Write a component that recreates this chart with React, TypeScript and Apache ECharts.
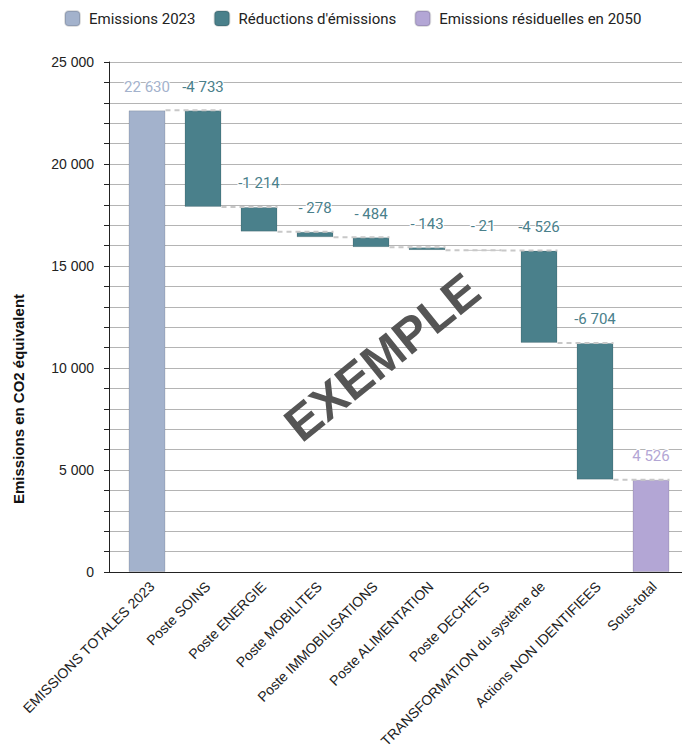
import React, { useEffect, useRef } from "react";
import * as echarts from "echarts";

// ---- Data ----
const categories = [
  "EMISSIONS TOTALES 2023",
  "Poste SOINS",
  "Poste ENERGIE",
  "Poste MOBILITES",
  "Poste IMMOBILISATIONS",
  "Poste ALIMENTATION",
  "Poste DECHETS",
  "TRANSFORMATION du système de",
  "Actions NON IDENTIFIEES",
  "Sous-total",
];
const startEmissions = 22630; // EMISSIONS TOTALES 2023
const reductions = [4733, 1214, 278, 484, 143, 21, 4526, 6704]; // Poste SOINS ... Actions NON IDENTIFIEES
const residual2050 = 4526; // Sous-total
const yTicks = [0, 5000, 10000, 15000, 20000, 25000];
const seriesNames = ["Emissions 2023", "Réductions d'émissions", "Emissions résiduelles en 2050"];

// ---- Derived (running totals) ----
const levels: number[] = [startEmissions];
reductions.forEach((r) => levels.push(levels[levels.length - 1] - r));
const baseData = [0, ...reductions.map((_, i) => levels[i + 1]), 0];
const startData = [startEmissions, ...reductions.map(() => "-"), "-"];
const reductionData = ["-", ...reductions, "-"];
const residualData = ["-", ...reductions.map(() => "-"), residual2050];

const COLORS = ["#a3b2cc", "#4a808b", "#b3a6d5"];

function fmtThousands(n: number): string {
  const s = String(Math.abs(Math.round(n)));
  return s.replace(/\B(?=(\d{3})+(?!\d))/g, " ");
}
function fmtReduction(n: number): string {
  return n < 1000 ? "- " + fmtThousands(n) : "-" + fmtThousands(n);
}

export default function App() {
  const ref = useRef<HTMLDivElement>(null);
  useEffect(() => {
    if (!ref.current) return;
    const chart = echarts.init(ref.current, null, { renderer: "svg" });
    const BAR_W = 37;
    const labelBase = {
      show: true,
      position: "top",
      distance: 16,
      fontFamily: "Roboto",
      fontSize: 15,
      textBorderColor: "#ffffff",
      textBorderWidth: 2,
    };
    const option: any = {
      animation: false,
      backgroundColor: "#ffffff",
      legend: {
        left: 59,
        top: 5,
        itemWidth: 15,
        itemHeight: 15,
        itemGap: 18,
        icon: "roundRect",
        data: seriesNames,
        textStyle: { fontFamily: "Roboto", fontSize: 15, color: "#222", padding: [0, 0, 0, 4] },
      },
      grid: [
        { left: 109, right: 0, top: 62, bottom: 179 },
        { left: 119, right: 3, top: 62, bottom: 179 },
        { left: 124, right: -2, top: 62, bottom: 179 },
      ],
      xAxis: [
        {
          gridIndex: 0,
          type: "value",
          min: 0,
          max: 1,
          axisLine: { show: true, onZero: false, lineStyle: { color: "#222", width: 1 } },
          axisTick: { show: false },
          axisLabel: { show: false },
          splitLine: { show: false },
        },
        {
          gridIndex: 1,
          type: "category",
          data: categories,
          axisLine: { show: false },
          axisTick: { show: false },
          axisLabel: { show: false },
        },
        {
          gridIndex: 2,
          type: "category",
          data: categories,
          axisLine: { show: false },
          axisTick: { show: false },
          axisLabel: {
            interval: 0,
            rotate: 45,
            margin: 12,
            fontFamily: "Liberation Sans",
            fontSize: 14,
            color: "#222",
          },
        },
      ],
      yAxis: [
        {
          gridIndex: 0,
          type: "value",
          min: 0,
          max: 25000,
          interval: 1000,
          axisLine: { show: true, lineStyle: { color: "#222", width: 1 } },
          axisTick: { show: true, length: 5, lineStyle: { color: "#222" } },
          axisLabel: {
            margin: 15,
            fontFamily: "Liberation Sans",
            fontSize: 14,
            color: "#222",
            formatter: (v: number) => (yTicks.includes(v) ? fmtThousands(v) : ""),
          },
          splitLine: { show: true, lineStyle: { color: "#b4b4b4", width: 1 } },
        },
        {
          gridIndex: 1,
          type: "value",
          min: 0,
          max: 25000,
          show: false,
          splitLine: { show: false },
        },
        {
          gridIndex: 2,
          type: "value",
          min: 0,
          max: 25000,
          show: false,
          splitLine: { show: false },
        },
      ],
      graphic: [
        {
          type: "text",
          x: 18,
          y: 399,
          rotation: Math.PI / 2,
          style: {
            text: "Emissions en CO2 équivalent",
            font: "bold 15px 'Liberation Sans'",
            fill: "#111",
            align: "center",
            verticalAlign: "middle",
          },
        },
        {
          type: "text",
          x: 382,
          y: 357,
          rotation: (39 * Math.PI) / 180,
          z: 100,
          style: {
            text: "EXEMPLE",
            font: "bold 49px 'Liberation Sans'",
            fill: "#555555",
            align: "center",
            verticalAlign: "middle",
          },
        },
      ],
      series: [
        {
          name: "base",
          type: "bar",
          xAxisIndex: 1,
          yAxisIndex: 1,
          stack: "w",
          barWidth: BAR_W,
          itemStyle: { color: "transparent" },
          silent: true,
          data: baseData,
        },
        {
          name: seriesNames[0],
          type: "bar",
          xAxisIndex: 1,
          yAxisIndex: 1,
          stack: "w",
          barWidth: BAR_W,
          itemStyle: { color: COLORS[0], borderColor: "rgba(0,0,0,0.12)", borderWidth: 1 },
          label: { ...labelBase, color: COLORS[0], formatter: (p: any) => fmtThousands(p.value) },
          data: startData,
        },
        {
          name: seriesNames[1],
          type: "bar",
          xAxisIndex: 1,
          yAxisIndex: 1,
          stack: "w",
          barWidth: BAR_W,
          itemStyle: { color: COLORS[1], borderColor: "rgba(0,0,0,0.12)", borderWidth: 1 },
          label: { ...labelBase, color: COLORS[1], formatter: (p: any) => fmtReduction(p.value) },
          data: reductionData,
        },
        {
          name: seriesNames[2],
          type: "bar",
          xAxisIndex: 1,
          yAxisIndex: 1,
          stack: "w",
          barWidth: BAR_W,
          itemStyle: { color: COLORS[2], borderColor: "rgba(0,0,0,0.12)", borderWidth: 1 },
          label: { ...labelBase, color: COLORS[2], formatter: (p: any) => fmtThousands(p.value) },
          data: residualData,
        },
        {
          name: "connectors",
          type: "custom",
          xAxisIndex: 1,
          yAxisIndex: 1,
          silent: true,
          z: 5,
          data: levels.map((lvl, i) => [i, lvl]),
          renderItem: (params: any, api: any) => {
            const i = api.value(0);
            const lvl = api.value(1);
            const p0 = api.coord([i, lvl]);
            const p1 = api.coord([i + 1, lvl]);
            const half = BAR_W / 2;
            return {
              type: "line",
              shape: { x1: p0[0] + half, y1: p0[1], x2: p1[0] + half, y2: p1[1] },
              style: { stroke: "#c8c8c8", lineWidth: 2, lineDash: [5, 4] },
            };
          },
        },
      ],
    };
    chart.setOption(option);
    return () => chart.dispose();
  }, []);
  return (
    <div
      ref={ref}
      style={{ position: "fixed", left: 0, top: 0, width: 682, height: 751, background: "#fff" }}
    />
  );
}
